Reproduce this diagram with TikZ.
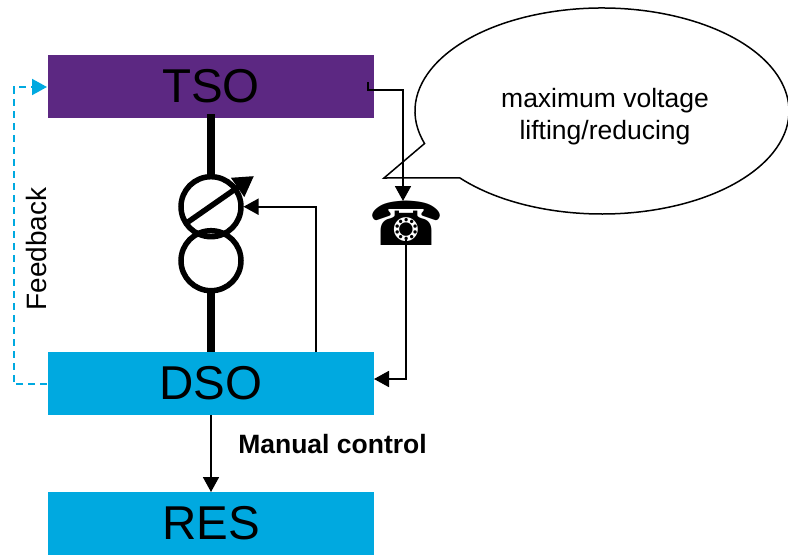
\documentclass[tikz,border=0pt]{standalone}
\usepackage{fontspec}
\setmainfont{Liberation Sans}
\newfontfamily\phonefont{DejaVu Sans}
\usetikzlibrary{arrows.meta,calc}
\definecolor{tsopurple}{HTML}{5C2882}
\definecolor{dsocyan}{HTML}{00A9E0}
\newcommand{\boxlabel}[1]{\raisebox{-3pt}{#1}}
\tikzset{
  x=1pt,y=1pt,
  busbox/.style={minimum width=326pt,minimum height=63pt,inner sep=0pt,outer sep=0pt,font=\fontsize{47.5}{47.5}\selectfont,text=black},
  bigtext/.style={font=\fontsize{26.5}{32}\selectfont,inner sep=0pt,text=black},
  signal/.style={line width=1.8pt,draw=black,-{Triangle[length=15pt,width=16pt]}},
  feedbackline/.style={line width=2pt,draw=dsocyan,dash pattern=on 7pt off 5pt,-{Triangle[length=15pt,width=16pt,color=dsocyan]}},
  hvline/.style={line width=8.5pt,draw=black},
  winding/.style={circle,draw=black,line width=5.5pt,minimum size=60pt,inner sep=0pt,outer sep=0pt},
}
\begin{document}
\begin{tikzpicture}
\useasboundingbox (0,0) rectangle (788,-555);
% boxes
\node[busbox,fill=tsopurple] (tso) at (211,-86.5) {\boxlabel{TSO}};
\node[busbox,fill=dsocyan] (dso) at (211,-383.5) {\boxlabel{DSO}};
\node[busbox,fill=dsocyan] (res) at (211,-523.5) {\boxlabel{RES}};
% transformer
\node[winding] (upper) at (211,-206.7) {};
\node[winding] (lower) at (211,-260.7) {};
\coordinate (hvtop) at (211,-114);
\draw[hvline] (hvtop) -- (upper.north);
\draw[hvline] (lower.south) -- (dso.north);
\coordinate (tapstart) at (188,-222);
\coordinate (taptip) at (254,-176);
\draw[line width=5.5pt,-{Triangle[length=20pt,width=22pt]}] (tapstart) -- (taptip);
% speech bubble
\draw[line width=1.5pt,line join=miter] (602,-111) ++(198.4:187 and 103) coordinate (bubblestart)
  arc[start angle=198.4,end angle=-139.5,x radius=187,y radius=103]
  -- (384,-178) -- cycle;
\node[bigtext,align=center] (bubbletext) at (605,-116.5) {maximum voltage\\lifting/reducing};
% phone
\node[inner sep=0pt,font=\phonefont\fontsize{61}{61}\selectfont] (phone) at (406,-223) {☎};
% connectors
\coordinate (tsotap) at (368,-82);
\coordinate (tsobend) at (368,-90);
\coordinate (phonetop) at (403,-201);
\coordinate (phonebottom) at (406,-240);
\coordinate (dsoright) at (374,-379);
\coordinate (ctrlstart) at (316,-352);
\coordinate (ctrlend) at (243.5,-206.7);
\draw[signal] (tsotap) -- (tsobend) -| (phonetop);
\draw[signal] (phonebottom) |- (dsoright);
\draw[signal] (ctrlstart) |- (ctrlend);
\draw[signal] (dso.south) -- (res.north);
% feedback
\coordinate (fbstart) at (47,-384);
\coordinate (fbend) at (47,-87);
\draw[feedbackline] (fbstart) -- (13.5,-384) -- (13.5,-87) -- (fbend);
% labels
\node[bigtext,font=\fontsize{28}{32}\selectfont,rotate=90] (fblabel) at (36,-249) {Feedback};
\node[bigtext,font=\fontsize{26.5}{32}\selectfont\bfseries] (manual) at (332.5,-444) {Manual control};
\end{tikzpicture}
\end{document}
